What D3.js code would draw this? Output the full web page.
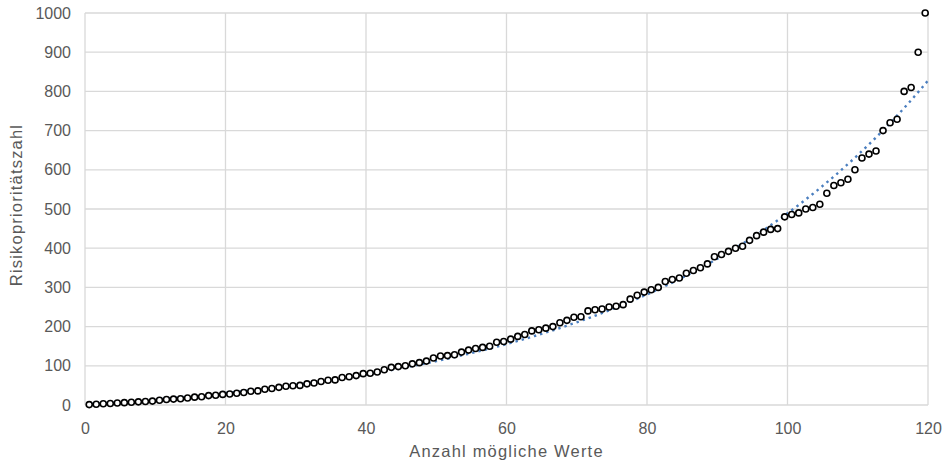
<!DOCTYPE html>
<html>
<head>
<meta charset="utf-8">
<script src="https://cdn.jsdelivr.net/npm/d3@7"></script>
<style>
  body { margin: 0; background: #fff; }
  svg { display: block; font-family: "Liberation Sans", Arial, sans-serif; }
</style>
</head>
<body>
<svg id="chart" width="944" height="465"></svg>
<script>
// sorted distinct risk priority numbers, one per rank 1..120
const rpnValues = [
  1, 2, 3, 4, 5, 6, 7, 8, 9, 10,
  12, 14, 15, 16, 18, 20, 21, 24, 25, 27,
  28, 30, 32, 35, 36, 40, 42, 45, 48, 49,
  50, 54, 56, 60, 63, 64, 70, 72, 75, 80,
  81, 84, 90, 96, 98, 100, 105, 108, 112, 120,
  125, 126, 128, 135, 140, 144, 147, 150, 160, 162,
  168, 175, 180, 189, 192, 196, 200, 210, 216, 224,
  225, 240, 243, 245, 250, 252, 256, 270, 280, 288,
  294, 300, 315, 320, 324, 336, 343, 350, 360, 378,
  384, 392, 400, 405, 420, 432, 441, 448, 450, 480,
  486, 490, 500, 504, 512, 540, 560, 567, 576, 600,
  630, 640, 648, 700, 720, 729, 800, 810, 900, 1000
];
const xTicks = [0, 20, 40, 60, 80, 100, 120];
const yTicks = [0, 100, 200, 300, 400, 500, 600, 700, 800, 900, 1000];
// trend curve: a * exp(b * x) + c
const trendA = 45.7, trendB = 0.02457, trendC = -44.2;

const svg = d3.select("#chart");
const margin = { left: 85, right: 944 - 928, top: 13, bottom: 465 - 405 };
const w = 944 - margin.left - margin.right;
const h = 465 - margin.top - margin.bottom;

const x = d3.scaleLinear().domain([0, 120]).range([0, w]);
const y = d3.scaleLinear().domain([0, 1000]).range([h, 0]);

const g = svg.append("g").attr("transform", `translate(${margin.left},${margin.top})`);

// gridlines
g.append("g").selectAll("line").data(yTicks).join("line")
  .attr("x1", 0).attr("x2", w)
  .attr("y1", d => y(d)).attr("y2", d => y(d))
  .attr("stroke", "#d9d9d9").attr("stroke-width", 1.3);
g.append("g").selectAll("line").data(xTicks).join("line")
  .attr("x1", d => x(d)).attr("x2", d => x(d))
  .attr("y1", 0).attr("y2", h)
  .attr("stroke", "#d9d9d9").attr("stroke-width", 1.3);

// axes (labels only)
const xAxis = g.append("g").attr("transform", `translate(0,${h})`)
  .call(d3.axisBottom(x).tickValues(xTicks).tickFormat(d3.format("d")).tickSize(0).tickPadding(18));
const yAxis = g.append("g")
  .call(d3.axisLeft(y).tickValues(yTicks).tickFormat(d3.format("d")).tickSize(0).tickPadding(14));
[xAxis, yAxis].forEach(a => {
  a.select(".domain").remove();
  a.selectAll("text").attr("fill", "#595959").attr("font-size", 16)
    .attr("font-family", "Liberation Sans, Arial, sans-serif");
});

// trend line
const trendX = d3.range(1, 120.01, 0.5);
g.append("path")
  .datum(trendX)
  .attr("fill", "none")
  .attr("stroke", "#4a7ebf")
  .attr("stroke-width", 2.4)
  .attr("stroke-dasharray", "2.4,4")
  .attr("d", d3.line().x(d => x(d)).y(d => y(trendA * Math.exp(trendB * d) + trendC)));

// points
g.append("g").selectAll("circle").data(rpnValues).join("circle")
  .attr("cx", (d, i) => x(i + 1 - 0.4))
  .attr("cy", d => y(d))
  .attr("r", 3)
  .attr("fill", "#fff")
  .attr("stroke", "#000")
  .attr("stroke-width", 1.6);

// titles
svg.append("text")
  .attr("x", margin.left + w / 2).attr("y", 457)
  .attr("text-anchor", "middle")
  .attr("fill", "#595959").attr("font-size", 16.5).attr("letter-spacing", 1.2)
  .text("Anzahl mögliche Werte");
svg.append("text")
  .attr("transform", `translate(22,${margin.top + h / 2 - 4}) rotate(-90)`)
  .attr("text-anchor", "middle")
  .attr("fill", "#595959").attr("font-size", 16.5).attr("letter-spacing", 1.2)
  .text("Risikoprioritätszahl");
</script>
</body>
</html>
